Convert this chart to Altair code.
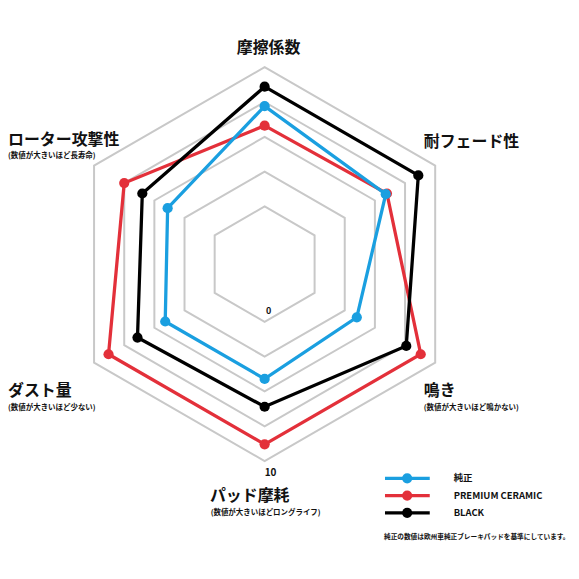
import altair as alt
import pandas as pd

# radar axes (clockwise from top) and series values
axes = ["摩擦係数", "耐フェード性", "鳴き", "パッド摩耗", "ダスト量", "ローター攻撃性"]
series = ["純正", "PREMIUM CERAMIC", "BLACK"]
colors = ["#1a9fe0", "#e3303a", "#000000"]
junsei = [7.2, 5.9, 3.5, 4.1, 4.1, 3.9]
premium = [5.8, 6.0, 8.8, 8.8, 8.8, 7.5]
black = [8.6, 8.6, 7.6, 6.1, 6.4, 6.0]
rings = [0, 2.5, 5, 7.5, 10]
note = "純正の数値は欧州車純正ブレーキパッドを基準にしています。"

W, H = 566, 560
FONT = "Noto Sans CJK JP"

rows = []
for name, vals in zip(series, [junsei, premium, black]):
    for i, (ax, v) in enumerate(zip(axes, vals)):
        rows.append({"series": name, "axis": ax, "i": i, "value": v})
df = pd.DataFrame(rows)

grid = pd.DataFrame([{"ring": r, "i": i} for r in rings for i in range(len(axes))])
legend = pd.DataFrame({"series": series, "k": range(len(series))})

# polar -> pixel-like coordinates, centre (258, 256), 0 at r=58, 14 px per unit
polar_x = "258 + (58 + 14 * datum.v) * sin(datum.i * PI / 3)"
polar_y = "256 - (58 + 14 * datum.v) * cos(datum.i * PI / 3)"

xs = alt.Scale(domain=[0, W])
ys = alt.Scale(domain=[0, H], reverse=True)
color = alt.Color("series:N", scale=alt.Scale(domain=series, range=colors), legend=None)

grid_layer = alt.Chart(grid).transform_calculate(
    v="datum.ring"
).transform_calculate(
    px=polar_x, py=polar_y
).mark_line(interpolate="linear-closed", color="#c8c8c8", strokeWidth=2).encode(
    x=alt.X("px:Q", scale=xs, axis=None),
    y=alt.Y("py:Q", scale=ys, axis=None),
    detail="ring:N",
    order="i:Q",
)

base = alt.Chart(df).transform_calculate(
    v="datum.value"
).transform_calculate(
    px=polar_x, py=polar_y
)

layers = []
for name in ["PREMIUM CERAMIC", "純正", "BLACK"]:
    sub = base.transform_filter(alt.datum.series == name)
    layers.append(sub.mark_line(interpolate="linear-closed", strokeWidth=3.3).encode(
        x=alt.X("px:Q", scale=xs, axis=None),
        y=alt.Y("py:Q", scale=ys, axis=None),
        color=color,
        order="i:Q",
    ))
    layers.append(sub.mark_circle(size=105, opacity=1).encode(
        x=alt.X("px:Q", scale=xs, axis=None),
        y=alt.Y("py:Q", scale=ys, axis=None),
        color=color,
    ))


def label(text, x, y, size, align="left", weight="bold"):
    return alt.Chart(pd.DataFrame({"t": [text]})).mark_text(
        font=FONT, fontSize=size, fontWeight=weight, align=align, baseline="middle", color="#111111"
    ).encode(text="t:N", x=alt.value(x), y=alt.value(y))


labels = [
    label(axes[0], 262, 39, 16, "center"),
    label(axes[1], 418, 133, 16),
    label(axes[2], 418, 384, 16),
    label("(数値が大きいほど鳴かない)", 418, 401, 7.5),
    label(axes[3], 243, 489, 16, "center"),
    label("(数値が大きいほどロングライフ)", 259, 506, 7.5, "center"),
    label(axes[4], 0, 384, 16),
    label("(数値が大きいほど少ない)", 0, 400.5, 7.5),
    label(axes[5], 0, 131, 16),
    label("(数値が大きいほど長寿命)", 0, 147, 7.5),
    label(str(rings[0]), 262, 302.7, 9, "center"),
    label(str(rings[-1]), 264, 466, 10, "center"),
    label(note, 378, 530, 6.7),
]

leg = alt.Chart(legend).transform_calculate(
    ly="471.3 + datum.k * 17.35", x1="379", x2="424", xd="401.3", xt="448"
)
legend_layers = [
    leg.mark_rule(strokeWidth=3.3).encode(
        x=alt.X("x1:Q", scale=xs, axis=None), x2="x2:Q",
        y=alt.Y("ly:Q", scale=ys, axis=None), color=color,
    ),
    leg.mark_circle(size=105, opacity=1).encode(
        x=alt.X("xd:Q", scale=xs, axis=None),
        y=alt.Y("ly:Q", scale=ys, axis=None), color=color,
    ),
    leg.mark_text(font=FONT, fontSize=9.5, fontWeight="bold", align="left", baseline="middle", color="#111111").encode(
        x=alt.X("xt:Q", scale=xs, axis=None),
        y=alt.Y("ly:Q", scale=ys, axis=None), text="series:N",
    ),
]

chart = alt.layer(grid_layer, *layers, *legend_layers, *labels).properties(
    width=W, height=H, padding=0, background="white",
    autosize=alt.AutoSizeParams(type="none")
).configure_view(strokeWidth=0)

chart.save("out.html", embed_options={"renderer": "svg", "actions": False})
